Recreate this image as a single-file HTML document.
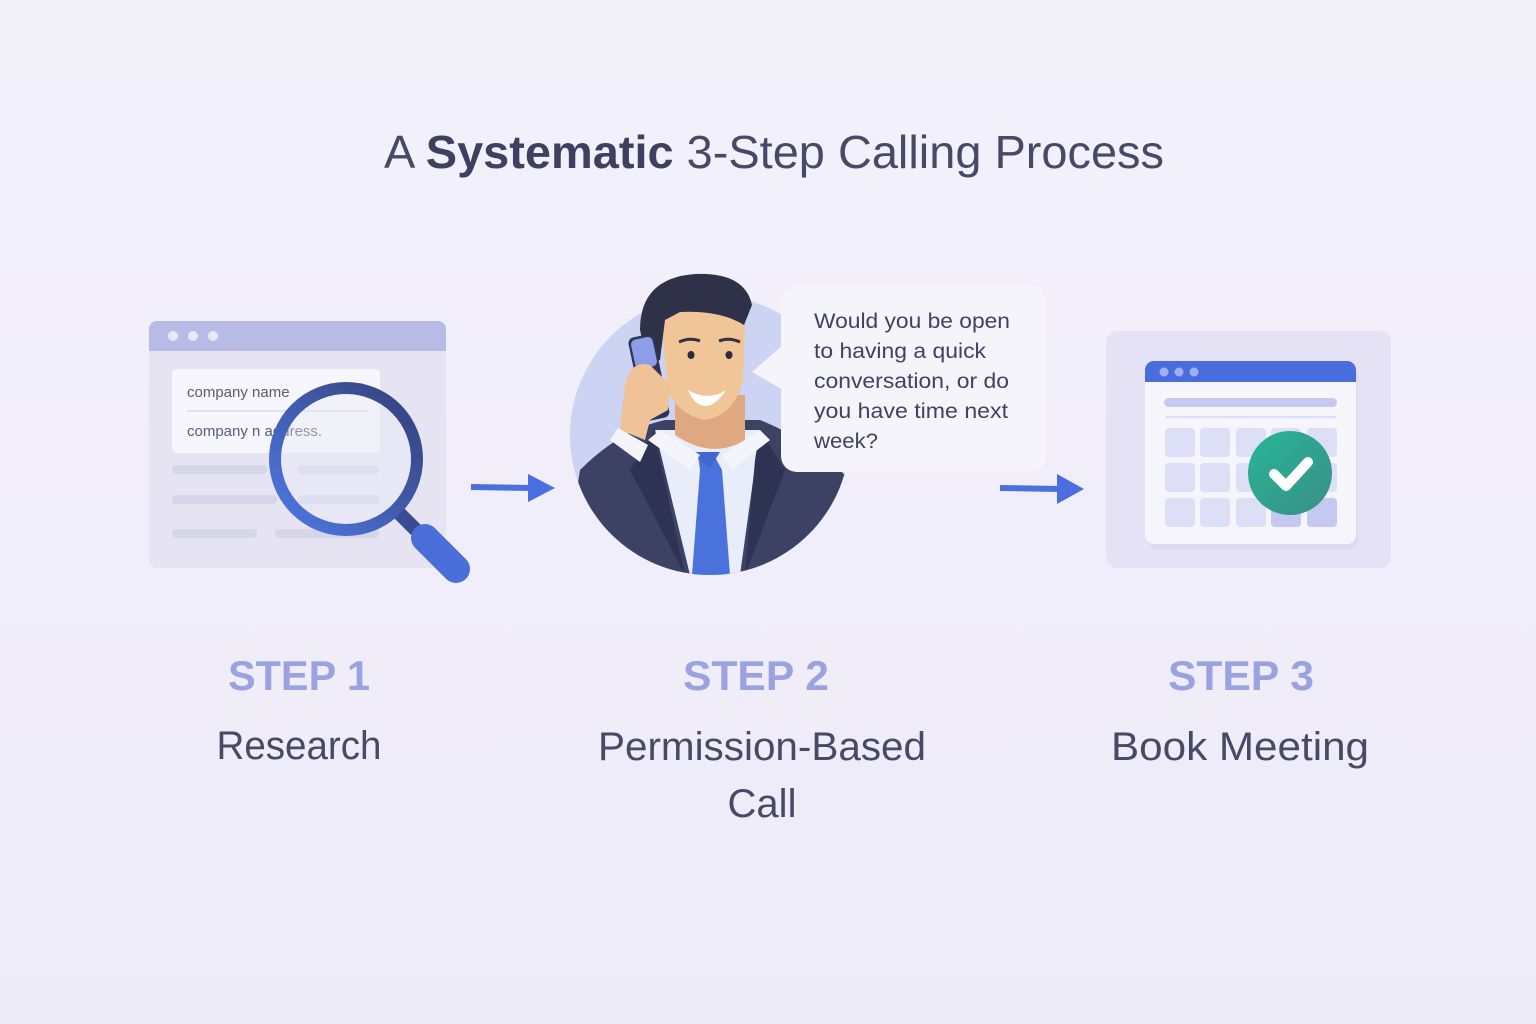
<!DOCTYPE html>
<html><head><meta charset="utf-8"><style>
html,body{margin:0;padding:0;background:#f1eff9;}
svg{display:block;}
text{font-family:"Liberation Sans","DejaVu Sans",sans-serif;}
</style></head><body>
<svg width="1536" height="1024" viewBox="0 0 1536 1024" xmlns="http://www.w3.org/2000/svg">
<defs>
<linearGradient id="bg" x1="0" y1="0" x2="0" y2="1"><stop offset="0" stop-color="#f3f1fa"/><stop offset="1" stop-color="#eeebf9"/></linearGradient>
<linearGradient id="ring" x1="0" y1="1" x2="1" y2="0"><stop offset="0" stop-color="#4f78e4"/><stop offset="1" stop-color="#34407a"/></linearGradient>
<linearGradient id="chk" x1="0" y1="0" x2="1" y2="1"><stop offset="0" stop-color="#26b597"/><stop offset="1" stop-color="#3b8f86"/></linearGradient>
<clipPath id="cc"><circle cx="710" cy="435" r="140"/></clipPath>
</defs>
<rect width="1536" height="1024" fill="url(#bg)"/>
<text x="384" y="168" font-size="46" fill="#474a66" textLength="780" lengthAdjust="spacingAndGlyphs">A <tspan font-weight="bold" fill="#3d4060">Systematic</tspan> 3-Step Calling Process</text>

<rect x="149" y="321" width="297" height="247" rx="8" fill="#e6e4f3"/>
<path d="M157 321 H438 a8 8 0 0 1 8 8 V351 H149 V329 a8 8 0 0 1 8-8z" fill="#b8bbe6"/>
<circle cx="173" cy="336" r="5" fill="#e8e8f6"/><circle cx="193" cy="336" r="5" fill="#e8e8f6"/><circle cx="213" cy="336" r="5" fill="#e8e8f6"/>
<rect x="172" y="369" width="208" height="84" rx="5" fill="#f7f6fc"/>
<line x1="187" y1="411" x2="368" y2="411" stroke="#d8d8ee" stroke-width="1.5"/>
<text x="187" y="397" font-size="15" fill="#585c78">company name</text>
<text x="187" y="436" font-size="15" fill="#585c78">company n  address.</text>
<rect x="172" y="465" width="95" height="9" rx="4" fill="#d6d5e9"/><rect x="298" y="465" width="81" height="9" rx="4" fill="#d6d5e9"/>
<rect x="172" y="495" width="105" height="9" rx="4" fill="#d6d5e9"/><rect x="298" y="495" width="81" height="9" rx="4" fill="#d6d5e9"/>
<rect x="172" y="529" width="85" height="9" rx="4" fill="#d6d5e9"/><rect x="275" y="529" width="104" height="9" rx="4" fill="#d6d5e9"/>
<circle cx="346" cy="459" r="72" fill="#e9ebf8" opacity="0.4"/>
<line x1="398" y1="512" x2="416" y2="530" stroke="#3a4a95" stroke-width="14"/>
<line x1="425" y1="538" x2="456" y2="569" stroke="#4a6fd8" stroke-width="28" stroke-linecap="round"/>
<circle cx="346" cy="459" r="71" fill="none" stroke="url(#ring)" stroke-width="12"/>

<line x1="471" y1="487" x2="532" y2="488" stroke="#4b6fe0" stroke-width="6"/>
<polygon points="528,474 555,488 528,502" fill="#4b6fe0"/>

<circle cx="710" cy="435" r="140" fill="#cdd3f3"/>
<g clip-path="url(#cc)">
<rect x="560" y="440" width="300" height="150" fill="#cdd3f3"/>
<path d="M580 470 Q620 430 665 420 L760 420 Q810 440 850 480 L860 600 L560 600 Z" fill="#3d4265"/>
<path d="M655 430 L690 575 L740 575 L760 430 Z" fill="#e9edf9"/>
<path d="M698 455 L714 455 L722 470 L730 575 L692 575 L700 470 Z" fill="#4a72dc"/>
<path d="M690 452 L720 452 L710 468 Z" fill="#4268d0"/>
<path d="M655 430 L630 470 L685 575 L660 460 Z" fill="#2f3353"/>
<path d="M760 430 L785 470 L745 575 L755 460 Z" fill="#2f3353"/>
</g>
<path d="M675 395 L745 395 L745 440 Q712 460 675 435 Z" fill="#dfa880"/>
<path d="M660 430 L700 455 L690 470 L648 440 Z" fill="#f4f5fb"/>
<path d="M760 430 L722 455 L732 470 L770 440 Z" fill="#f4f5fb"/>
<path d="M660 310 Q665 282 705 282 Q745 285 745 320 L743 380 Q735 415 705 420 Q678 415 668 390 Z" fill="#f0c597"/>
<path d="M640 330 Q640 278 695 274 Q745 272 752 305 L744 325 Q720 310 680 312 L665 320 L660 360 L648 365 Z" fill="#2f3148"/>
<ellipse cx="691" cy="355" rx="3.5" ry="4" fill="#2a2b3c"/><ellipse cx="729" cy="355" rx="3.5" ry="4" fill="#2a2b3c"/>
<path d="M679 342 Q690 337 700 341" stroke="#2f3148" stroke-width="3" fill="none"/>
<path d="M719 341 Q729 337 740 342" stroke="#2f3148" stroke-width="3" fill="none"/>
<path d="M688 390 Q708 402 726 390 Q716 406 705 406 Q694 405 688 390z" fill="#fff"/>
<rect x="636" y="335" width="26" height="85" rx="6" fill="#2f3556" transform="rotate(-12 649 378)"/>
<rect x="633" y="338" width="22" height="30" rx="5" fill="#8d9de6" transform="rotate(-12 644 353)"/>
<path d="M625 385 Q630 360 650 365 L670 385 L668 410 L650 420 L645 440 L620 430 Q622 410 625 385Z" fill="#efc397"/>
<path d="M618 428 L648 445 L640 462 L610 440 Z" fill="#f4f5fb"/>

<rect x="781" y="286" width="265" height="186" rx="16" fill="#f5f4fb"/>
<polygon points="783,345 752,372 783,390" fill="#f5f4fb"/>
<g font-size="21" fill="#3f4260">
<text x="814" y="328" textLength="196" lengthAdjust="spacingAndGlyphs">Would you be open</text>
<text x="814" y="358" textLength="172" lengthAdjust="spacingAndGlyphs">to having a quick</text>
<text x="814" y="388" textLength="195" lengthAdjust="spacingAndGlyphs">conversation, or do</text>
<text x="814" y="418" textLength="194" lengthAdjust="spacingAndGlyphs">you have time next</text>
<text x="814" y="448" textLength="64" lengthAdjust="spacingAndGlyphs">week?</text>
</g>

<line x1="1000" y1="488" x2="1060" y2="489" stroke="#4b6fe0" stroke-width="6"/>
<polygon points="1057,474 1084,489 1057,504" fill="#4b6fe0"/>

<rect x="1106" y="331" width="285" height="237" rx="12" fill="#e4e2f4"/>
<rect x="1148" y="365" width="210" height="185" rx="10" fill="#dcdaf0" opacity="0.8"/>
<rect x="1145" y="361" width="211" height="183" rx="9" fill="#f6f5fc"/>
<path d="M1154 361 H1347 a9 9 0 0 1 9 9 V382 H1145 V370 a9 9 0 0 1 9-9z" fill="#4a6ddd"/>
<circle cx="1164" cy="372" r="4.5" fill="#9db0f0"/><circle cx="1179" cy="372" r="4.5" fill="#9db0f0"/><circle cx="1194" cy="372" r="4.5" fill="#9db0f0"/>
<rect x="1164" y="398" width="173" height="9" rx="4.5" fill="#c5c9f3"/>
<line x1="1166" y1="417" x2="1336" y2="417" stroke="#d2d4f3" stroke-width="1.5"/>
<g fill="#dcdff6">
<rect x="1165" y="428" width="30" height="29" rx="4"/><rect x="1200" y="428" width="30" height="29" rx="4"/><rect x="1236" y="428" width="30" height="29" rx="4"/><rect x="1271" y="428" width="30" height="29" rx="4"/><rect x="1307" y="428" width="30" height="29" rx="4"/>
<rect x="1165" y="463" width="30" height="29" rx="4"/><rect x="1200" y="463" width="30" height="29" rx="4"/><rect x="1236" y="463" width="30" height="29" rx="4"/><rect x="1307" y="463" width="30" height="29" rx="4"/>
<rect x="1165" y="498" width="30" height="29" rx="4"/><rect x="1200" y="498" width="30" height="29" rx="4"/><rect x="1236" y="498" width="30" height="29" rx="4"/>
</g>
<rect x="1271" y="498" width="30" height="29" rx="4" fill="#c5c8ef"/><rect x="1307" y="498" width="30" height="29" rx="4" fill="#c5c8ef"/>
<circle cx="1290" cy="473" r="42" fill="url(#chk)"/>
<path d="M1274 474 L1286 486 L1308 462" stroke="#fff" stroke-width="10" fill="none" stroke-linecap="round" stroke-linejoin="round"/>

<g font-weight="bold" font-size="42" fill="#9aa2e0" text-anchor="middle">
<text x="299" y="690" textLength="142" lengthAdjust="spacingAndGlyphs">STEP 1</text>
<text x="756" y="690" textLength="146" lengthAdjust="spacingAndGlyphs">STEP 2</text>
<text x="1241" y="690" textLength="146" lengthAdjust="spacingAndGlyphs">STEP 3</text>
</g>
<g font-size="40" fill="#474a66" text-anchor="middle">
<text x="299" y="759" textLength="165" lengthAdjust="spacingAndGlyphs">Research</text>
<text x="762" y="760" textLength="328" lengthAdjust="spacingAndGlyphs">Permission-Based</text>
<text x="762" y="817">Call</text>
<text x="1240" y="760" textLength="258" lengthAdjust="spacingAndGlyphs">Book Meeting</text>
</g>
</svg>
</body></html>
